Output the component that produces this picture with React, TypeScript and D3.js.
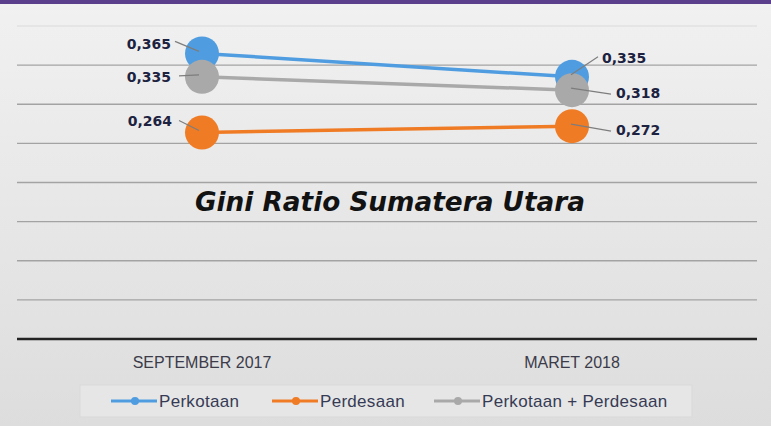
import React, {Component} from 'react';
import * as d3 from "d3"

// data
const categories = ["SEPTEMBER 2017", "MARET 2018"]
const seriesNames = ["Perkotaan", "Perdesaan", "Perkotaan + Perdesaan"]
const perkotaan = [0.365, 0.335]
const perdesaan = [0.264, 0.272]
const gabungan = [0.335, 0.318]
const yTicks = [0, 0.05, 0.1, 0.15, 0.2, 0.25, 0.3, 0.35, 0.4]
const title = "Gini Ratio Sumatera Utara"

const colors = ["#4f9de0", "#f07b25", "#a9a9a9"]

// label placement per series / point: [dx of label, dy of label, leader start dx, dy]
const labelLayout = [
  [[-31, -9, -27, -12], [30, -19, 26, -20]],
  [[-30, -11, -23, -12], [44, 4, 39, 5]],
  [[-31, 0, -23, -1], [44, 3, 39, 4]]
]

interface AppProps {}
interface AppState {}

class GiniChart extends Component<AppProps, AppState> {
  renderChart() {
    const width = 771
    const height = 426
    const root = d3.select("#GiniChart")
    root.selectAll("*").remove()

    const svg = root.append("svg").attr("width", width).attr("height", height)
      .style("display", "block")

    const defs = svg.append("defs")
    const grad = defs.append("linearGradient").attr("id", "bg").attr("x1", 0).attr("x2", 0).attr("y1", 0).attr("y2", 1)
    grad.append("stop").attr("offset", "0%").attr("stop-color", "#f1f1f1")
    grad.append("stop").attr("offset", "100%").attr("stop-color", "#dddddd")

    svg.append("rect").attr("width", width).attr("height", height).attr("fill", "url(#bg)")
    // purple strip on top
    svg.append("rect").attr("width", width).attr("height", 4).attr("fill", "#5b3f8c")

    const margin = {left: 17, right: 14}
    const x = d3.scalePoint<string>().domain(categories)
      .range([margin.left, width - margin.right]).padding(0.5)
    const y = d3.scaleLinear().domain([0, 0.4]).range([339, 26])

    // gridlines
    svg.append("g").selectAll("line")
      .data(yTicks.filter(t => t > 0))
      .join("line")
      .attr("x1", margin.left).attr("x2", width - margin.right)
      .attr("y1", d => y(d)).attr("y2", d => y(d))
      .attr("stroke", d => d >= 0.4 ? "#e2e2e2" : "#a3a3a3")
      .attr("stroke-width", 1.3)

    // x axis line
    svg.append("line")
      .attr("x1", margin.left).attr("x2", width - margin.right)
      .attr("y1", y(0)).attr("y2", y(0))
      .attr("stroke", "#232323").attr("stroke-width", 2.6)

    // category labels
    svg.append("g").selectAll("text")
      .data(categories)
      .join("text")
      .attr("x", d => x(d) as number)
      .attr("y", 368)
      .attr("text-anchor", "middle")
      .attr("font-family", "'Liberation Sans', Arial, sans-serif")
      .attr("font-size", 16)
      .attr("fill", "#3b3b4a")
      .text(d => d)

    // title
    svg.append("text")
      .attr("x", 390).attr("y", 211)
      .attr("text-anchor", "middle")
      .attr("font-family", "'DejaVu Sans', sans-serif")
      .attr("font-weight", "bold")
      .attr("font-style", "italic")
      .attr("font-size", 26)
      .attr("textLength", 390)
      .attr("lengthAdjust", "spacingAndGlyphs")
      .attr("fill", "#121212")
      .text(title)

    const allSeries = [perkotaan, perdesaan, gabungan]
    const line = d3.line<number>()
      .x((d, i) => x(categories[i]) as number)
      .y(d => y(d))

    allSeries.forEach((vals, s) => {
      const g = svg.append("g")
      g.append("path")
        .attr("d", line(vals) as string)
        .attr("fill", "none")
        .attr("stroke", colors[s])
        .attr("stroke-width", 3.5)
      g.selectAll("circle")
        .data(vals)
        .join("circle")
        .attr("cx", (d, i) => x(categories[i]) as number)
        .attr("cy", d => y(d))
        .attr("r", 17)
        .attr("fill", colors[s])
    })

    // data labels with leader lines
    allSeries.forEach((vals, s) => {
      vals.forEach((v, i) => {
        const px = x(categories[i]) as number
        const py = y(v)
        const [ldx, ldy, sdx, sdy] = labelLayout[s][i]
        const left = i === 0
        svg.append("line")
          .attr("x1", px + sdx).attr("y1", py + sdy)
          .attr("x2", px + (left ? -3 : -1)).attr("y2", py + (left ? -2 : -2))
          .attr("stroke", "#7d7d7d").attr("stroke-width", 1.2)
        svg.append("text")
          .attr("x", px + ldx)
          .attr("y", py + ldy + 5)
          .attr("text-anchor", left ? "end" : "start")
          .attr("font-family", "'DejaVu Sans', sans-serif")
          .attr("font-weight", "bold")
          .attr("font-size", 14)
          .attr("fill", "#1c2240")
          .text(d3.format(".3f")(v).replace(".", ","))
      })
    })

    // legend
    const legend = svg.append("g")
    legend.append("rect")
      .attr("x", 80).attr("y", 385).attr("width", 612).attr("height", 32)
      .attr("fill", "#e6e6e6").attr("stroke", "#d9d9d9")
    const legendX = [111, 272, 434]
    seriesNames.forEach((name, s) => {
      const lx = legendX[s]
      legend.append("line")
        .attr("x1", lx).attr("x2", lx + 46)
        .attr("y1", 401).attr("y2", 401)
        .attr("stroke", colors[s]).attr("stroke-width", 3)
      legend.append("circle")
        .attr("cx", lx + 24).attr("cy", 401).attr("r", 4)
        .attr("fill", colors[s])
      legend.append("text")
        .attr("x", lx + 48).attr("y", 407)
        .attr("font-family", "'Liberation Sans', Arial, sans-serif")
        .attr("font-size", 17)
        .attr("letter-spacing", 0.3)
        .attr("fill", "#363b55")
        .text(name)
    })
  }

  componentDidMount() {
    this.renderChart()
  }

  public render(): JSX.Element {
    return (
      <div
        id='GiniChart'
        style={{position: "fixed", left: 0, top: 0, width: 771, height: 426}}
      ></div>
    )
  }
}

export default function App() {
  return <GiniChart />
}
